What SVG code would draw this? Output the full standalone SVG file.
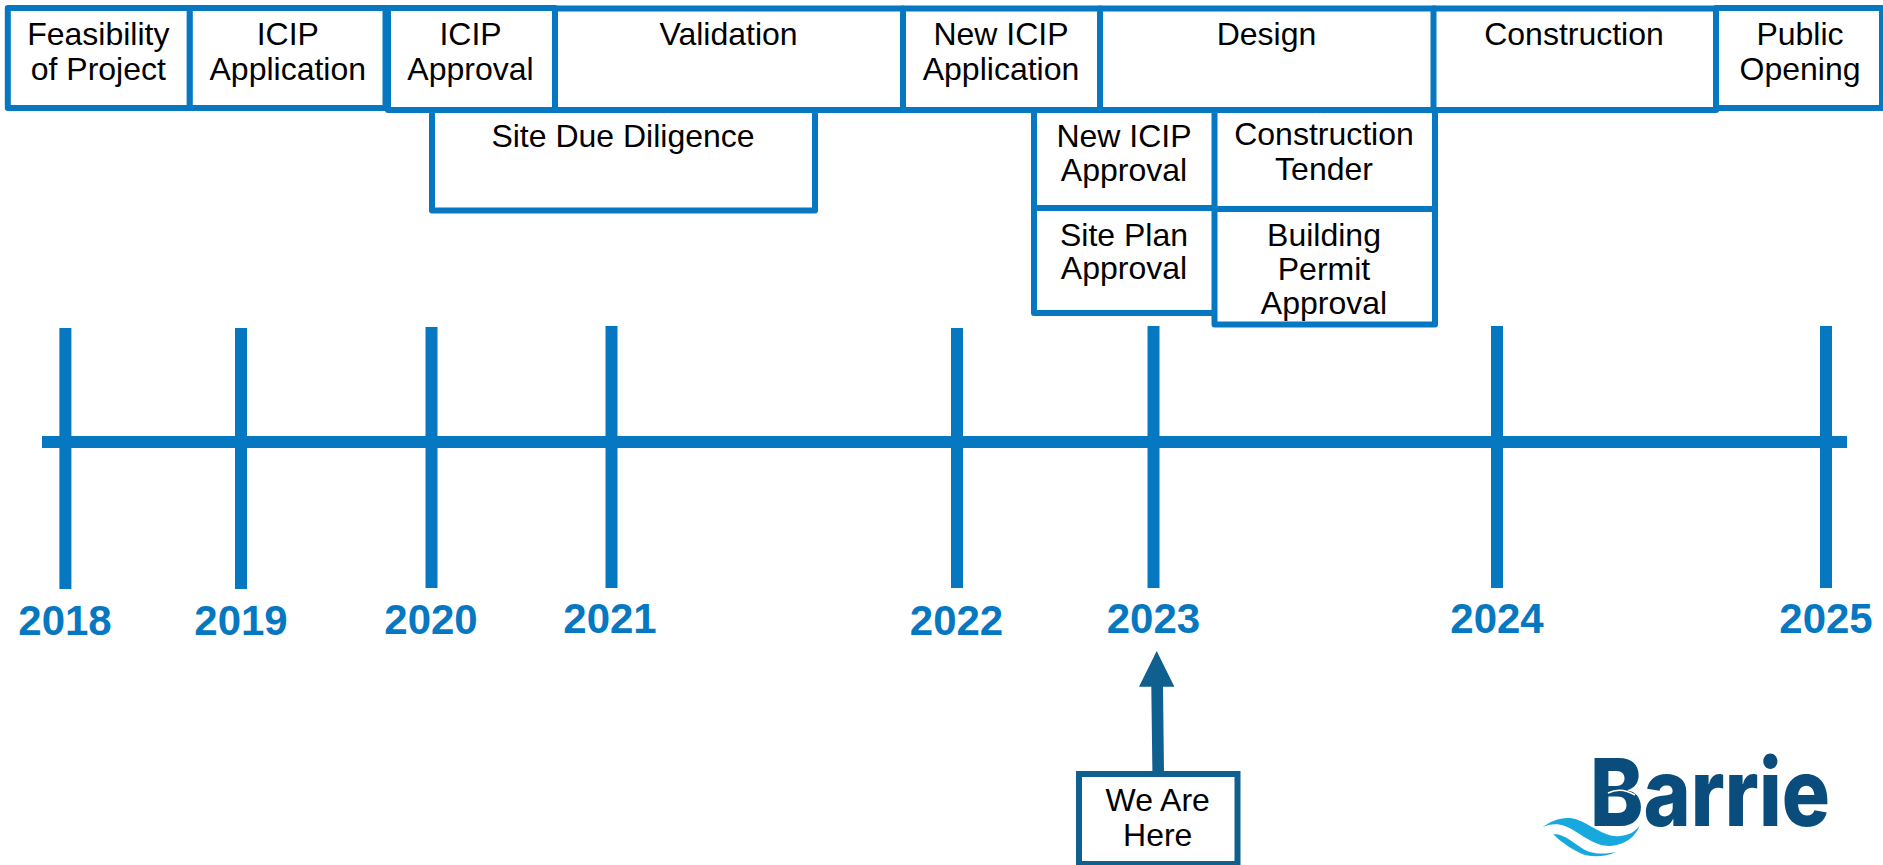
<svg xmlns="http://www.w3.org/2000/svg" width="1883" height="865" viewBox="0 0 1883 865">
<style>
.b{fill:#fff;stroke:#0678C2;stroke-width:6;stroke-linejoin:round}
.t{font-family:"Liberation Sans",Arial,sans-serif;font-size:32px;fill:#000;text-anchor:middle}
.y{font-family:"Liberation Sans",Arial,sans-serif;font-size:42px;font-weight:bold;fill:#0678C2;text-anchor:middle}
.a{fill:#0678C2}
</style>
<rect width="1883" height="865" fill="#fff"/>
<g id="connectors">
<rect class="a" x="42" y="436" width="1805" height="12"/>
<rect class="a" x="59.4" y="328" width="12" height="261"/>
<rect class="a" x="235" y="328" width="12" height="261"/>
<rect class="a" x="425.5" y="327" width="12" height="261"/>
<rect class="a" x="605.500" y="326" width="12" height="262"/>
<rect class="a" x="951" y="328" width="12" height="260"/>
<rect class="a" x="1147.5" y="326" width="12" height="262"/>
<rect class="a" x="1491" y="326" width="12" height="262"/>
<rect class="a" x="1820" y="326" width="12" height="262"/>
<path d="M1151.3 686.7H1139L1156.7 651L1174.4 686.7H1163L1164 772H1152.4Z" fill="#0F5F8F"/>
</g>
<g id="y2018"><text class="y" x="65" y="635">2018</text></g>
<g id="y2019"><text class="y" x="241" y="635">2019</text></g>
<g id="y2020"><text class="y" x="431" y="634">2020</text></g>
<g id="y2021"><text class="y" x="610" y="632.7">2021</text></g>
<g id="y2022"><text class="y" x="956.500" y="635">2022</text></g>
<g id="y2023"><text class="y" x="1153.4" y="632.7">2023</text></g>
<g id="y2024"><text class="y" x="1497" y="632.7">2024</text></g>
<g id="y2025"><text class="y" x="1826" y="632.7">2025</text></g>
<g id="site-due"><rect class="b" x="432" y="110" width="383" height="100.500"/><text class="t" x="623" y="147">Site Due Diligence</text></g>
<g id="new-icip-approval"><rect class="b" x="1034" y="110" width="181" height="98"/><text class="t" x="1124" y="146.700">New ICIP</text><text class="t" x="1124" y="180.700">Approval</text></g>
<g id="site-plan"><rect class="b" x="1034" y="208" width="181" height="105"/><text class="t" x="1124" y="245.500">Site Plan</text><text class="t" x="1124" y="279">Approval</text></g>
<g id="construction-tender"><rect class="b" x="1214.500" y="109" width="220.500" height="100"/><text class="t" x="1324" y="145">Construction</text><text class="t" x="1324" y="180">Tender</text></g>
<g id="building-permit"><rect class="b" x="1214.500" y="209" width="220.500" height="115.500"/><text class="t" x="1324" y="245.700">Building</text><text class="t" x="1324" y="280">Permit</text><text class="t" x="1324" y="314">Approval</text></g>
<g id="feasibility"><rect class="b" x="7.800" y="8" width="182" height="100"/><text class="t" x="98.300" y="45">Feasibility</text><text class="t" x="98.300" y="80">of Project</text></g>
<g id="icip-application"><rect class="b" x="189.800" y="8" width="195.700" height="100"/><text class="t" x="287.800" y="45">ICIP</text><text class="t" x="287.800" y="80">Application</text></g>
<g id="icip-approval"><rect class="b" x="388" y="8" width="167" height="102"/><text class="t" x="470.500" y="45">ICIP</text><text class="t" x="470.500" y="80">Approval</text></g>
<g id="validation"><rect class="b" x="555" y="8.600" width="348" height="101.400"/><text class="t" x="728.500" y="45">Validation</text></g>
<g id="new-icip-application"><rect class="b" x="903" y="8.600" width="197" height="101.400"/><text class="t" x="1001" y="45">New ICIP</text><text class="t" x="1001" y="80">Application</text></g>
<g id="design"><rect class="b" x="1100" y="8.600" width="335" height="101.400"/><text class="t" x="1266.500" y="45">Design</text></g>
<g id="construction"><rect class="b" x="1433.500" y="8.600" width="282.500" height="101.400"/><text class="t" x="1574" y="45">Construction</text></g>
<g id="public-opening"><rect class="b" x="1716" y="8" width="166" height="100"/><text class="t" x="1800" y="45">Public</text><text class="t" x="1800" y="80">Opening</text></g>
<g id="we-are-here"><rect x="1079" y="774" width="158.500" height="90" fill="#fff" stroke="#0F5F8F" stroke-width="6"/><text class="t" x="1157.700" y="810.700">We Are</text><text class="t" x="1157.700" y="845.500">Here</text></g>
<g id="logo">
<text x="1590" y="826" font-family="Inter,Liberation Sans,sans-serif" font-size="94" font-weight="800" fill="#0A4D7C" textLength="240" lengthAdjust="spacingAndGlyphs">Barrie</text>
<path d="M1608 793C1616 789 1625 789 1635 795" fill="none" stroke="#fff" stroke-width="1.500"/>
<path d="M1542.300 827.300C1552 820 1566 815 1578 820C1592 825 1605 838 1620 836C1630 835 1636 831 1640 825C1636 836 1626 845 1610 846C1592 846 1580 832 1565 826C1557 823 1549 824 1542.300 827.300Z" fill="#17A9DD"/>
<path d="M1553.300 834.300C1563 833 1572 842 1585 850C1595 855 1608 854 1616.700 851.700C1605 857 1590 858 1580 853C1568 847 1560 841 1553.300 834.300Z" fill="#17A9DD"/>
</g>
</svg>
